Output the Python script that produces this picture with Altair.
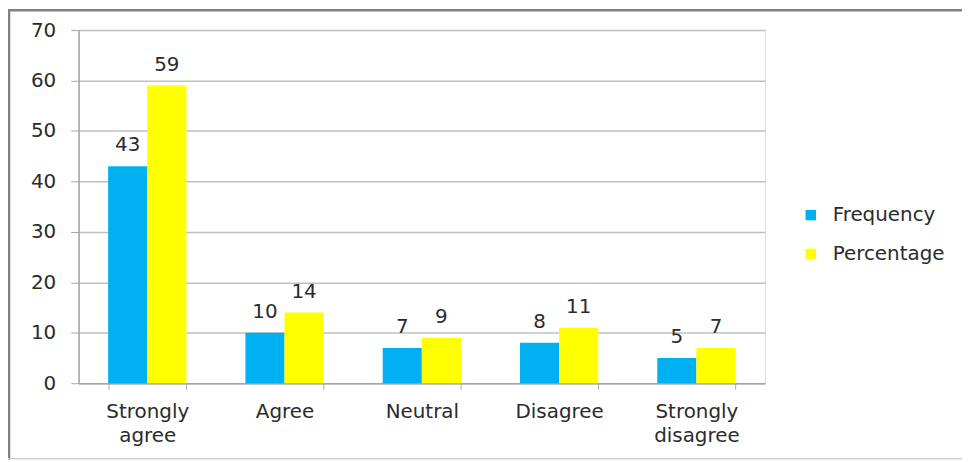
import altair as alt
import pandas as pd

categories = ["Strongly agree", "Agree", "Neutral", "Disagree", "Strongly disagree"]
series = ["Frequency", "Percentage"]
frequency = [43, 10, 7, 8, 5]
percentage = [59, 14, 9, 11, 7]
colors = ["#00B0F0", "#FFFF00"]
y_ticks = [0, 10, 20, 30, 40, 50, 60, 70]

rows = []
for c, f, p in zip(categories, frequency, percentage):
    rows.append({"Category": c, "Series": "Frequency", "Value": f})
    rows.append({"Category": c, "Series": "Percentage", "Value": p})
df = pd.DataFrame(rows)

FONT = "DejaVu Sans"
TXT = "#2b2b2b"
FS = 20

x_enc = alt.X(
    "Category:N",
    sort=categories,
    title=None,
    scale=alt.Scale(paddingInner=0.43, paddingOuter=0.215),
    axis=alt.Axis(
        labelAngle=0,
        labelExpr="split(datum.label, ' ')",
        labelFontSize=FS,
        labelLineHeight=25,
        labelPadding=12,
        labelColor=TXT,
        labelFont=FONT,
        tickBand="extent",
        tickSize=6,
        tickColor="#a6a6a6",
        domainColor="#a6a6a6",
        domainWidth=1.5,
        grid=False,
    ),
)
y_enc = alt.Y(
    "Value:Q",
    title=None,
    scale=alt.Scale(domain=[0, 70], nice=False),
    axis=alt.Axis(
        values=y_ticks,
        labelFontSize=FS,
        labelColor=TXT,
        labelFont=FONT,
        labelPadding=15,
        tickSize=8,
        tickColor="#a6a6a6",
        domainColor="#a6a6a6",
        domainWidth=1.5,
        gridColor="#c0c0c0",
        gridWidth=1.5,
    ),
)
xoff = alt.XOffset("Series:N", sort=series, scale=alt.Scale(paddingInner=0, paddingOuter=0))
color = alt.Color(
    "Series:N",
    sort=series,
    scale=alt.Scale(domain=series, range=colors),
    legend=alt.Legend(
        title=None,
        orient="none",
        legendX=726,
        legendY=176,
        symbolType="square",
        symbolSize=110,
        symbolStrokeWidth=0,
        labelFontSize=FS,
        labelFont=FONT,
        labelColor=TXT,
        rowPadding=19,
        labelOffset=12,
    ),
)

bars = alt.Chart(df).mark_bar().encode(x=x_enc, xOffset=xoff, y=y_enc, color=color)
labels = alt.Chart(df).mark_text(
    dy=-11, fontSize=FS, font=FONT, color=TXT, baseline="bottom"
).encode(x=x_enc, xOffset=xoff, y=y_enc, text="Value:Q")

one = pd.DataFrame({"f": [0]})
frame_left = alt.Chart(one).mark_rule(stroke="#808080", strokeWidth=2.5).encode(
    x=alt.value(-70), y=alt.value(-20), y2=alt.value(432)
)
frame_top = alt.Chart(one).mark_rule(stroke="#808080", strokeWidth=2.5).encode(
    x=alt.value(-71), x2=alt.value(900), y=alt.value(-20)
)
frame_bottom = alt.Chart(one).mark_rule(stroke="#d0d0d0", strokeWidth=1.5).encode(
    x=alt.value(-71), x2=alt.value(900), y=alt.value(431)
)

chart = alt.layer(bars, labels, frame_left, frame_top, frame_bottom).properties(
    width=690,
    height=355,
    padding={"left": 71, "top": 21, "right": 198, "bottom": 78},
    autosize=alt.AutoSizeParams(type="none"),
).configure_view(stroke=None).configure(background="white")

chart.save("out.html", embed_options={"renderer": "svg", "actions": False})
